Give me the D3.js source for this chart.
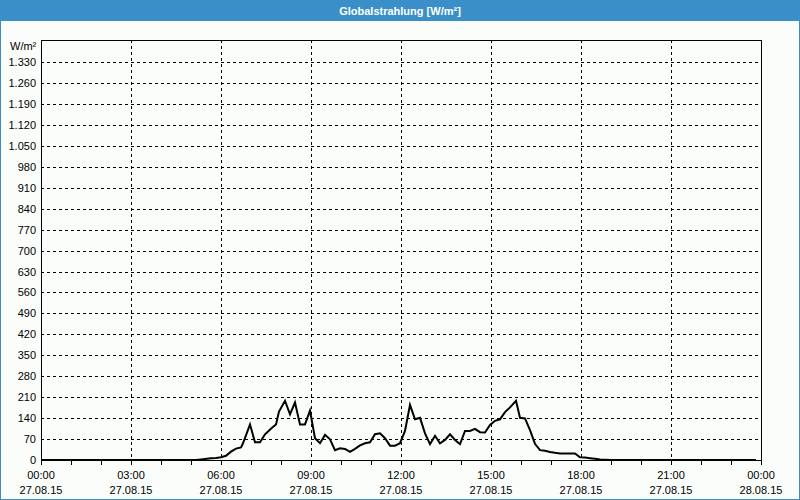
<!DOCTYPE html>
<html><head><meta charset="utf-8">
<script src="https://cdn.jsdelivr.net/npm/d3@7"></script>
<style>
html,body{margin:0;padding:0;background:#fbfdfb;}
svg{display:block;}
text{font-family:"Liberation Sans",Arial,sans-serif;}
</style></head>
<body>
<svg id="chart" width="800" height="500"></svg>
<script>
// ---- data ----
const chartTitle = "Globalstrahlung [W/m²]";
const yUnit = "W/m²";
const times = ["00:00","05:10","05:20","05:40","05:50","06:00","06:10","06:20","06:30","06:40","06:44","06:58","07:08","07:18","07:28","07:42","07:50","07:56","08:08","08:18","08:28","08:38","08:48","08:58","09:08","09:18","09:28","09:38","09:48","09:58","10:08","10:18","10:28","10:38","10:48","10:58","11:08","11:18","11:28","11:38","11:48","11:58","12:08","12:18","12:28","12:38","12:48","12:58","13:08","13:18","13:28","13:38","13:48","13:58","14:08","14:18","14:28","14:38","14:48","14:58","15:08","15:18","15:28","15:38","15:50","15:58","16:08","16:18","16:28","16:38","16:48","16:58","17:08","17:18","17:48","17:58","18:08","18:18","18:28","18:38","18:48","19:00","23:50"];
const values = [0,0,2,6,7,9,14,28,38,42,56,119,59,59,86,108,119,162,198,153,192,119,119,165,73,56,84,69,33,39,37,27,37,49,56,59,86,89,73,48,48,56,97,184,136,141,89,53,81,56,67,86,67,53,97,97,104,93,92,117,131,136,160,176,198,141,139,100,54,33,31,27,24,22,22,9,8,6,4,2,1,0,0];
const yTickValues = [0,70,140,210,280,350,420,490,560,630,700,770,840,910,980,1050,1120,1190,1260,1330];
const xTickTimes = ["27.08.2015 00:00","27.08.2015 03:00","27.08.2015 06:00","27.08.2015 09:00","27.08.2015 12:00","27.08.2015 15:00","27.08.2015 18:00","27.08.2015 21:00","28.08.2015 00:00"];
const xTickLabels = ["00:00","03:00","06:00","09:00","12:00","15:00","18:00","21:00","00:00"];
const xTickDates = ["27.08.15","27.08.15","27.08.15","27.08.15","27.08.15","27.08.15","27.08.15","27.08.15","28.08.15"];
const yMax = 1404;

(function(){
// ---- layout ----
const W = 800, H = 500;
const pL = 41, pR = 761, pT = 40, pB = 460;
const blue = "#3b8fc8";

const parse = d3.timeParse("%d.%m.%Y %H:%M");
const data = times.map((t,i)=>({t: parse("27.08.2015 " + t), v: values[i]}));
const xTicks = xTickTimes.map(parse);

const svg = d3.select("#chart");
const x = d3.scaleTime().domain([xTicks[0], xTicks[xTicks.length-1]]).range([pL, pR]);
const y = d3.scaleLinear().domain([0, yMax]).range([pB, pT]);

// frame + title bar
svg.append("rect").attr("x",0).attr("y",0).attr("width",W).attr("height",H).attr("fill","#fbfdfb");
svg.append("rect").attr("x",0.5).attr("y",0.5).attr("width",W-1).attr("height",H-1).attr("fill","none").attr("stroke",blue).attr("stroke-width",1);
svg.append("rect").attr("x",0).attr("y",0).attr("width",W).attr("height",21).attr("fill",blue);
svg.append("text").attr("x",W/2).attr("y",15).attr("text-anchor","middle")
  .attr("fill","#ffffff").attr("font-weight","bold").attr("font-size","11px").text(chartTitle);

// gridlines
const g = svg.append("g").attr("shape-rendering","crispEdges");
g.selectAll("line.hg").data(yTickValues.filter(d=>d>0)).join("line")
  .attr("x1",pL).attr("x2",pR)
  .attr("y1",d=>Math.round(y(d))+0.5).attr("y2",d=>Math.round(y(d))+0.5)
  .attr("stroke","#000").attr("stroke-dasharray","3,3");
g.selectAll("line.vg").data(xTicks.slice(1,-1)).join("line")
  .attr("x1",d=>Math.round(x(d))+0.5).attr("x2",d=>Math.round(x(d))+0.5)
  .attr("y1",pT).attr("y2",pB)
  .attr("stroke","#000").attr("stroke-dasharray","3,3");

// bottom axis with hourly ticks
const xAxis = d3.axisBottom(x).ticks(d3.timeHour.every(1)).tickSize(4).tickFormat("");
const ax = svg.append("g").attr("transform",`translate(0,${pB+0.5})`).call(xAxis);
ax.select(".domain").remove();
ax.selectAll("line").attr("stroke","#000").attr("shape-rendering","crispEdges");

// x labels
const xl = svg.append("g").attr("font-size","11px").attr("fill","#000").attr("text-anchor","middle");
xl.selectAll("text.t").data(xTicks).join("text").attr("class","t").attr("x",d=>x(d)).attr("y",479).text((d,i)=>xTickLabels[i]);
xl.selectAll("text.d").data(xTicks).join("text").attr("class","d").attr("x",d=>x(d)).attr("y",494).text((d,i)=>xTickDates[i]);

// y labels
const fmt = d3.formatLocale({decimal:",",thousands:".",grouping:[3],currency:["","€"]}).format(",d");
svg.append("g").attr("font-size","11px").attr("text-anchor","end")
  .selectAll("text").data(yTickValues).join("text")
  .attr("x",36).attr("y",d=>y(d)+4).text(d=>fmt(d));
svg.append("text").attr("x",10).attr("y",50).attr("font-size","11px").text(yUnit);

// plot border
svg.append("rect").attr("x",pL+0.5).attr("y",pT+0.5).attr("width",pR-pL).attr("height",pB-pT)
  .attr("fill","none").attr("stroke","#000").attr("shape-rendering","crispEdges");

// data line
const line = d3.line().x(d=>x(d.t)).y(d=>y(d.v));
svg.append("path").datum(data).attr("d",line).attr("fill","none").attr("stroke","#000")
  .attr("stroke-width",2).attr("stroke-linejoin","miter");
})();
</script>
</body></html>
